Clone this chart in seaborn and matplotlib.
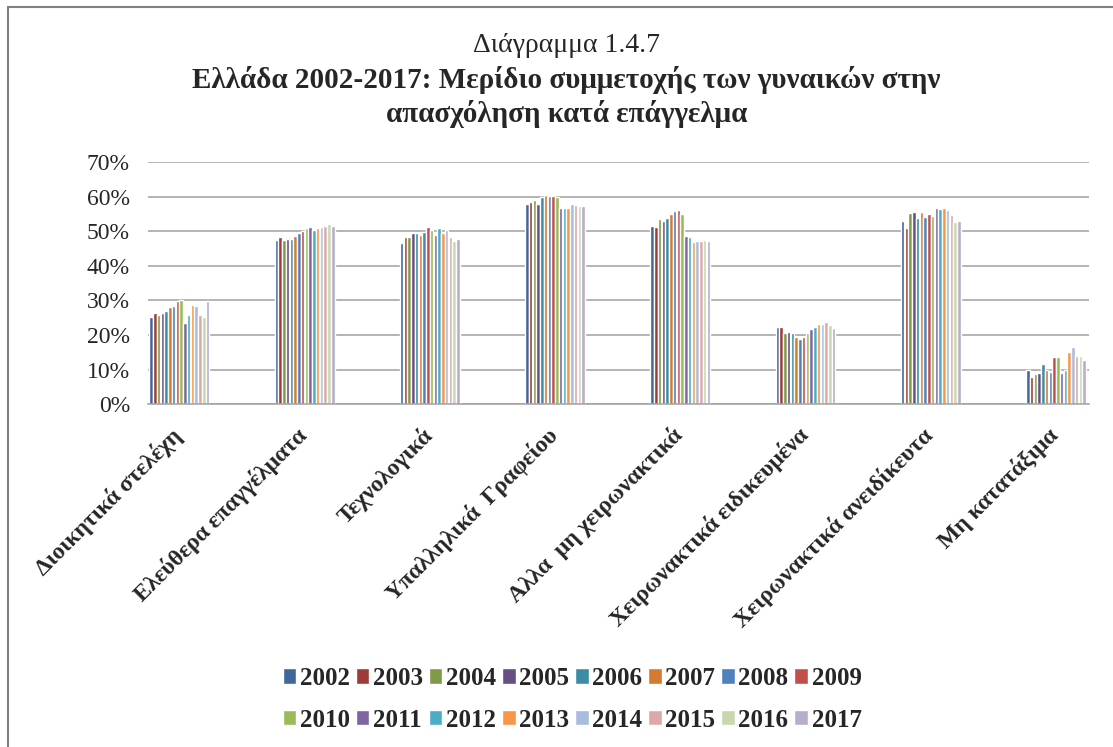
import numpy as np
import pandas as pd
import matplotlib
matplotlib.use('Agg')
import matplotlib.pyplot as plt
import seaborn as sns
from matplotlib.ticker import PercentFormatter
from matplotlib.patches import Rectangle
from matplotlib.transforms import ScaledTranslation

# ---- data (share of women in employment by occupation, %) ----
categories = ['Διοικητικά στελέχη', 'Ελεύθερα επαγγέλματα', 'Τεχνολογικά',
              'Υπαλληλικά  Γραφείου', 'Αλλα  μη χειρωνακτικά',
              'Χειρωνακτικά ειδικευμένα', 'Χειρωνακτικά ανειδίκευτα',
              'Μη κατατάξιμα']
years = [str(y) for y in range(2002, 2018)]

dioikitika = [25.3, 26.4, 25.7, 26.4, 26.8, 28.0, 28.4, 29.9, 30.1, 23.5, 25.8, 28.7, 28.4, 25.8, 25.3, 29.9]
eleuthera = [47.6, 48.3, 47.5, 47.9, 47.9, 48.7, 49.4, 50.1, 50.9, 51.3, 50.5, 50.9, 51.3, 51.6, 52.0, 51.6]
texnologika = [46.7, 48.3, 48.3, 49.4, 49.4, 49.0, 49.9, 51.3, 50.5, 49.0, 50.9, 49.4, 50.5, 48.3, 47.2, 47.9]
ypallilika = [58.0, 58.4, 59.0, 58.0, 59.9, 60.6, 60.1, 60.1, 59.9, 56.8, 56.8, 56.8, 58.0, 57.6, 57.2, 57.2]
alla_mi = [51.5, 51.2, 53.5, 53.1, 53.8, 55.0, 55.8, 56.1, 55.0, 48.7, 48.3, 46.8, 47.2, 47.2, 47.6, 47.2]
xeir_eidik = [22.4, 22.4, 20.6, 20.9, 20.6, 19.4, 18.7, 19.4, 20.6, 21.6, 22.4, 23.2, 23.2, 23.8, 22.8, 22.0]
xeir_aneid = [53.1, 50.9, 55.4, 55.7, 53.8, 55.7, 54.2, 54.9, 54.5, 56.8, 56.4, 56.8, 56.1, 54.6, 52.7, 53.1]
mi_katataxima = [10.0, 7.9, 8.7, 9.0, 11.6, 10.0, 9.4, 13.5, 13.5, 9.0, 10.0, 15.0, 16.4, 13.8, 13.8, 12.8]

year_colors = ['#41679A', '#9E3B38', '#7F9A48', '#664F84', '#3B8CA4', '#D47B32',
               '#4F81BD', '#C0504D', '#9BBB59', '#8064A2', '#4BACC6', '#F79646',
               '#A9BCDD', '#DDA9A8', '#C8D8AC', '#B9ADCC']

series = [dioikitika, eleuthera, texnologika, ypallilika, alla_mi,
          xeir_eidik, xeir_aneid, mi_katataxima]
rows = []
for cat, vals in zip(categories, series):
    for yr, v in zip(years, vals):
        rows.append({'cat': cat, 'year': yr, 'val': v / 100})
df = pd.DataFrame(rows)

# ---- style ----
sns.set_style('white')
plt.rcParams['font.family'] = ['Liberation Serif', 'DejaVu Serif']

fig = plt.figure(figsize=(11.13, 7.47), dpi=100)
ax = fig.add_axes([0.133, 0.459, 0.845, 0.324])

sns.barplot(data=df, x='cat', y='val', hue='year', palette=year_colors,
            order=categories, hue_order=years, width=0.48, gap=0.06,
            ax=ax, saturation=1)

ax.set_ylim(0, 0.7)
ax.set_yticks(np.arange(0, 0.71, 0.1))
ax.yaxis.set_major_formatter(PercentFormatter(1.0, decimals=0))
ax.grid(True, axis='y', color='#A0A0A0', linewidth=1.1)
ax.set_axisbelow(True)
for s in ['left', 'right', 'top']:
    ax.spines[s].set_visible(False)
ax.spines['bottom'].set_color('#A0A0A0')
ax.spines['bottom'].set_linewidth(1.1)
ax.tick_params(axis='both', length=0)
ax.tick_params(axis='y', labelsize=17, pad=13)
ax.set_xlabel('')
ax.set_ylabel('')
ax.set_xlim(-0.25, 7.26)
ax.set_xticks(range(len(categories)))
ax.set_xticklabels(categories, rotation=45, ha='right', va='top',
                   rotation_mode='anchor', fontsize=17, fontweight='bold')
for lbl in ax.get_xticklabels():
    lbl.set_transform(lbl.get_transform() + ScaledTranslation(-0.09, -0.15, fig.dpi_scale_trans))

# legend at the bottom, filled row by row
handles, labels = ax.get_legend_handles_labels()
ax.get_legend().remove()
order = [i + 8 * r for i in range(8) for r in range(2)]
fig.legend([handles[i] for i in order], [labels[i] for i in order],
           loc='center', bbox_to_anchor=(0.514, 0.064), ncol=8,
           frameon=False, prop={'weight': 'bold', 'size': 18},
           handlelength=0.55, handleheight=0.55, handletextpad=0.15,
           columnspacing=0.22, labelspacing=0.75)

# title
fig.text(0.509, 0.939, 'Διάγραμμα 1.4.7', ha='center', va='center',
         fontsize=20)
fig.text(0.509, 0.893, 'Ελλάδα 2002-2017: Μερίδιο συμμετοχής των γυναικών στην',
         ha='center', va='center', fontsize=21, fontweight='bold')
fig.text(0.509, 0.848, 'απασχόληση κατά επάγγελμα', ha='center', va='center',
         fontsize=21, fontweight='bold')

# chart border
fig.patches.append(Rectangle((8 / 1113, -0.05), 1.1, 1 - 7 / 747 + 0.05,
                             transform=fig.transFigure, fill=False,
                             edgecolor='#808080', linewidth=1.5))

fig.savefig('out.png', dpi=100)
